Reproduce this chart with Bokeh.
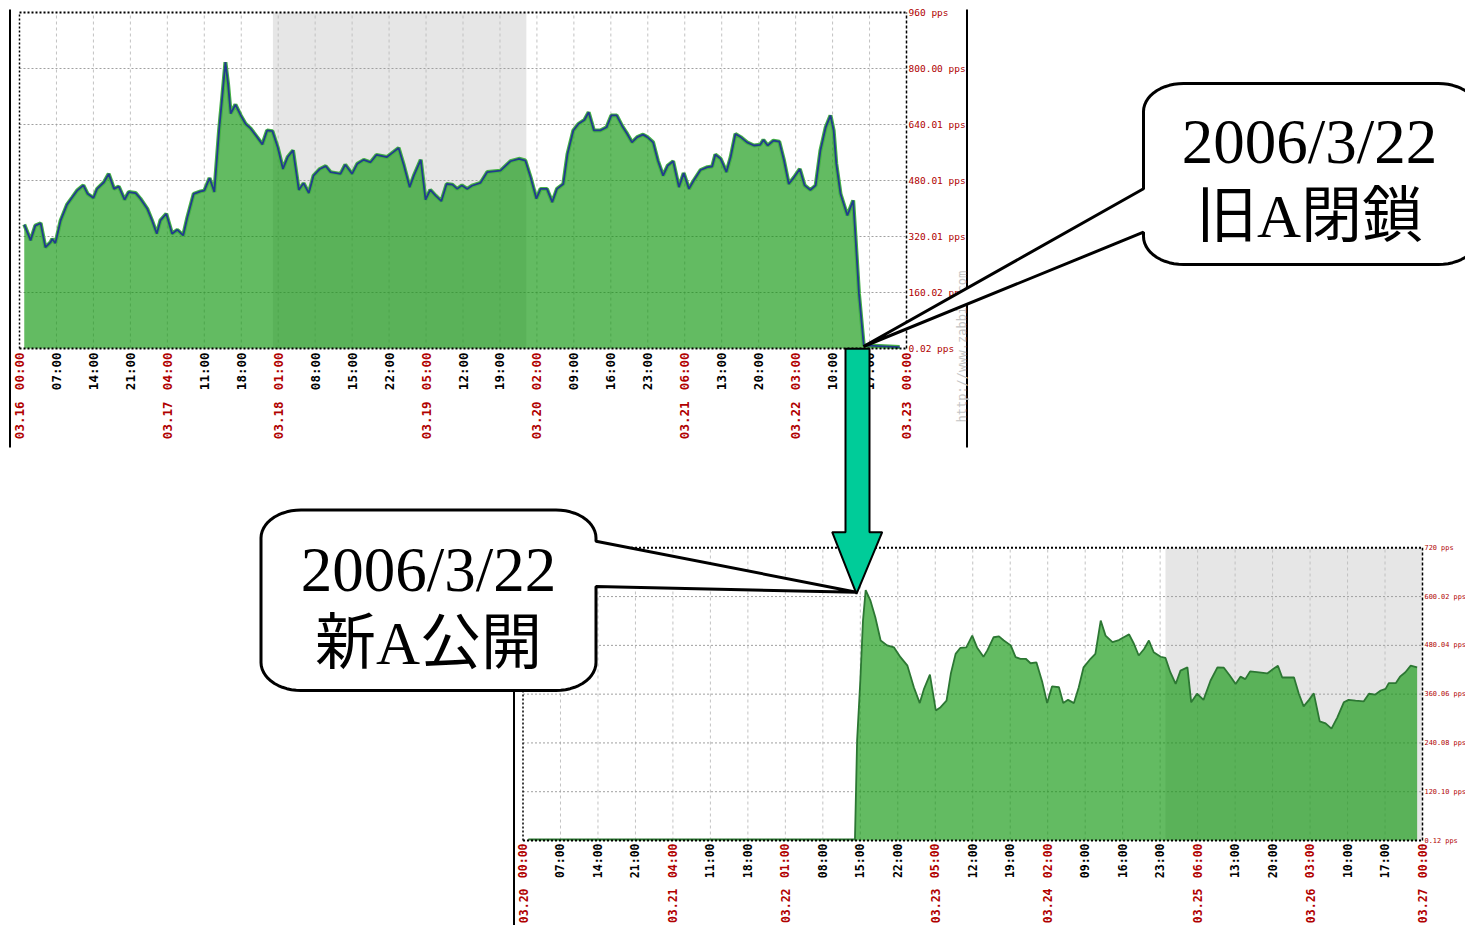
import numpy as np
from bokeh.plotting import figure
from bokeh.models import Range1d, LinearAxis, FixedTicker
from bokeh.core.properties import value
from bokeh.embed import file_html
from bokeh.resources import INLINE

# ---------------- data (hours since first tick, packets per second) ----------------
# old server A : 2006-03-16 00:00 .. 2006-03-23 00:00
old_hours = [
    0.9, 2.1, 3.0, 4.0, 4.9, 5.9, 6.2, 6.8, 7.8, 9.0,
    10.0, 10.9, 12.1, 12.9, 14.0, 14.7, 16.0, 16.9, 17.9, 18.8,
    19.9, 20.7, 22.0, 22.9, 24.2, 25.1, 26.0, 26.7, 27.8, 28.9,
    29.9, 31.0, 31.8, 33.0, 34.3, 35.0, 36.0, 36.9, 37.8, 38.4,
    39.0, 39.5, 40.0, 40.9, 41.9, 42.8, 43.8, 45.0, 46.0, 46.9,
    47.9, 48.9, 49.9, 50.8, 51.8, 52.9, 53.8, 54.8, 55.7, 56.9,
    58.0, 58.9, 60.8, 61.7, 63.0, 64.0, 65.2, 66.5, 67.6, 69.6,
    70.8, 71.8, 72.8, 73.9, 74.7, 76.0, 76.9, 77.8, 78.8, 79.9,
    80.9, 82.0, 82.9, 83.8, 84.8, 85.7, 87.3,
    88.6, 91.1, 93.0, 94.6, 95.8, 96.8, 97.9, 98.7, 99.9, 100.9,
    101.8, 103.0, 103.8, 104.9, 105.9, 107.0, 107.8, 108.8, 110.0, 111.2,
    112.1, 113.1, 114.2, 115.1, 116.0, 117.0, 118.1, 118.9, 120.0, 120.9,
    121.9, 122.8, 123.8, 124.9, 125.8, 126.8, 127.7, 129.0, 130.3, 131.2,
    131.8, 132.8, 133.9, 134.7, 135.6, 136.6, 137.8, 139.1, 140.3, 140.9,
    141.7, 142.8, 143.9, 144.8, 145.7, 146.7, 147.8, 148.7, 149.8, 150.8,
    151.7, 152.7, 153.6, 154.2, 154.7, 155.5, 156.8, 157.9, 158.3, 159.0,
    159.9, 166.7,
]
old_pps = [
    354, 309, 351, 358, 289, 304, 313, 301, 366, 411,
    432, 451, 466, 442, 430, 456, 475, 499, 456, 463,
    425, 447, 444, 428, 399, 366, 328, 366, 385, 328,
    339, 323, 375, 442, 449, 451, 487, 447, 623, 718,
    818, 756, 671, 697, 666, 642, 628, 604, 583, 623,
    621, 575, 513, 547, 566, 453, 472, 444, 494, 513,
    521, 504, 499, 525, 499, 528, 539, 532, 553, 547,
    561, 573, 523, 461, 494, 539, 425, 453, 437, 421,
    470, 468, 456, 466, 456, 465, 473,
    504, 508, 535, 542, 537, 489, 428, 456, 456, 418,
    456, 470, 556, 623, 642, 653, 675, 623, 623, 632,
    666, 666, 634, 613, 589, 604, 611, 604, 589, 537,
    494, 523, 535, 461, 501, 456, 480, 510, 518, 520,
    554, 542, 504, 547, 613, 604, 589, 580, 582, 596,
    580, 594, 591, 537, 470, 489, 513, 466, 453, 466,
    566, 632, 666, 623, 528, 442, 380, 423, 328, 156,
    9, 4,
]

# new server A : 2006-03-20 00:00 .. 2006-03-27 00:00
new_hours = [
    1.0, 62.0, 62.4, 63.0, 63.5, 64.0, 64.9, 65.8, 66.8, 68.0,
    69.3, 70.5, 71.8, 73.0, 74.1, 74.9, 76.0, 77.1, 78.0, 79.1,
    79.9, 80.8, 81.7, 82.8, 83.9, 84.8, 86.0, 86.7, 87.9, 88.9,
    89.8, 91.1, 92.0, 92.9, 93.9, 94.8, 95.9, 97.0, 97.9, 98.8,
    100.1, 100.9, 101.8, 102.9, 103.8, 104.7, 106.0, 106.9, 107.9, 108.8,
    110.1, 111.3, 112.2, 113.2, 114.1, 115.0, 116.0, 116.9, 117.8, 119.1,
    120.0, 120.9, 121.9, 122.8, 124.1, 124.8, 125.9, 127.1, 128.4, 129.7,
    130.9, 132.0, 133.1, 134.0, 134.9, 135.8, 137.1, 139.0, 140.1, 141.0,
    141.8, 144.0, 144.9, 145.8, 146.8, 147.7, 148.8, 149.9, 151.0, 152.1,
    153.3, 154.2, 155.5, 157.0, 158.0, 159.2, 160.2, 161.1, 161.7, 163.0,
    163.8, 164.8, 165.8, 167.0,
]
new_pps = [
    3, 3, 246, 393, 541, 616, 590, 549, 492, 480,
    475, 451, 430, 377, 338, 373, 408, 320, 328, 344,
    410, 459, 474, 475, 504, 475, 452, 467, 500, 502,
    492, 480, 451, 447, 447, 436, 438, 389, 338, 379,
    377, 338, 346, 338, 377, 426, 447, 459, 541, 504,
    488, 493, 500, 507, 484, 455, 471, 492, 463, 452,
    449, 414, 385, 418, 426, 340, 361, 346, 393, 426,
    425, 406, 385, 403, 397, 416, 414, 411, 422, 430,
    401, 401, 361, 330, 346, 362, 293, 288, 275, 303,
    340, 346, 344, 342, 361, 359, 369, 373, 387, 387,
    403, 414, 430, 426,
]
assert len(old_hours) == len(old_pps)
assert len(new_hours) == len(new_pps)

tick_hours = [0, 7, 14, 21, 28, 35, 42, 49, 56, 63, 70, 77, 84, 91, 98,
              105, 112, 119, 126, 133, 140, 147, 154, 161, 168]
tick_times = ["00:00", "07:00", "14:00", "21:00", "04:00", "11:00", "18:00",
              "01:00", "08:00", "15:00", "22:00", "05:00", "12:00", "19:00",
              "02:00", "09:00", "16:00", "23:00", "06:00", "13:00", "20:00",
              "03:00", "10:00", "17:00", "00:00"]
old_tick_dates = ["03.16", "", "", "", "03.17", "", "", "03.18", "", "", "", "03.19",
                  "", "", "03.20", "", "", "", "03.21", "", "", "03.22", "", "", "03.23"]
new_tick_dates = ["03.20", "", "", "", "03.21", "", "", "03.22", "", "", "", "03.23",
                  "", "", "03.24", "", "", "", "03.25", "", "", "03.26", "", "", "03.27"]

old_weekend = [48, 96]
new_weekend = [120, 168]

old_value_ticks = [0, 160, 320, 480, 640, 800, 960]
old_value_labels = ["0.02 pps", "160.02 pps", "320.01 pps", "480.01 pps",
                    "640.01 pps", "800.00 pps", "960 pps"]
new_value_ticks = [0, 120, 240, 360, 480, 600, 720]
new_value_labels = ["0.12 pps", "120.10 pps", "240.08 pps", "360.06 pps",
                    "480.04 pps", "600.02 pps", "720 pps"]

callout_old = ["2006/3/22", "旧A閉鎖"]
callout_new = ["2006/3/22", "新A公開"]
watermark = "http://www.zabbix.com"

# ---------------- layout (reference pixel frame) ----------------
W, H = 1465, 925
X_LO, X_HI = 0, W
Y_TOP, Y_BOT = 0, H
SPAN = 168

OLD_BOX = dict(x0=19.0, x1=906.0, y0=348.0, y1=12.0, vmax=960)
NEW_BOX = dict(x0=522.5, x1=1422.0, y0=840.0, y1=547.3, vmax=720)

GREEN = "#0b950a"
RED = "#b00000"
MONO_NAME = "DejaVu Sans Mono"
MONO = value(MONO_NAME)

p = figure(width=W, height=H, x_range=Range1d(X_LO, X_HI), y_range=Range1d(Y_BOT, Y_TOP),
           x_axis_type=None, y_axis_type=None, toolbar_location=None,
           output_backend="svg", min_border=0, outline_line_color=None,
           background_fill_color="white", border_fill_color="white")


def chart_ranges(name, box):
    kx = SPAN / (box["x1"] - box["x0"])
    ky = box["vmax"] / (box["y0"] - box["y1"])
    p.extra_x_ranges["t" + name] = Range1d((X_LO - box["x0"]) * kx, (X_HI - box["x0"]) * kx)
    p.extra_y_ranges["v" + name] = Range1d((box["y0"] - Y_BOT) * ky, (box["y0"] - Y_TOP) * ky)
    return "t" + name, "v" + name


def draw_chart(name, box, hours, pps, weekend, vticks, vlabels, dates,
               line_color, halo, fs, so_time, so_date, vfs):
    tx, vy = chart_ranges(name, box)
    vmax = box["vmax"]
    kw = dict(x_range_name=tx, y_range_name=vy)
    p.quad(left=weekend[0], right=weekend[1], bottom=0, top=vmax,
           fill_color="#e6e6e6", line_color=None, **kw)
    inner = tick_hours[1:-1]
    p.segment(x0=inner, y0=[0] * len(inner), x1=inner, y1=[vmax] * len(inner),
              line_color="#c2c2c2", line_dash="3 3", line_width=1, **kw)
    hv = vticks[1:-1]
    p.segment(x0=[0] * len(hv), y0=hv, x1=[SPAN] * len(hv), y1=hv,
              line_color="#a0a0a0", line_dash="2 2", line_width=1, **kw)
    p.varea(x=hours, y1=[0] * len(hours), y2=pps, fill_color=GREEN, fill_alpha=0.64, **kw)
    if halo:
        p.line(hours, pps, line_color=halo, line_width=4, **kw)
    p.line(hours, pps, line_color=line_color, line_width=1.8, **kw)
    # frame
    p.segment(x0=[0, 0], y0=[0, vmax], x1=[SPAN, SPAN], y1=[0, vmax],
              line_color="black", line_dash="2 2", line_width=2, **kw)
    p.segment(x0=[0], y0=[0], x1=[0], y1=[vmax], line_color="black",
              line_dash="2 2", line_width=1.5, **kw)
    p.segment(x0=[SPAN], y0=[0], x1=[SPAN], y1=[vmax], line_color="black",
              line_dash="3 2", line_width=1.5, **kw)

    red = [t for t, d in zip(tick_hours, dates) if d]
    blk = [t for t, d in zip(tick_hours, dates) if not d]
    times = dict(zip(tick_hours, tick_times))
    dmap = {t: d for t, d in zip(tick_hours, dates) if d}
    specs = [(blk, {t: times[t] for t in blk}, "black", so_time),
             (red, {t: times[t] for t in red}, RED, so_time),
             (red, dmap, RED, so_date)]
    for ticks, labels, color, so in specs:
        ax = LinearAxis(fixed_location=0, ticker=FixedTicker(ticks=ticks),
                        major_label_overrides=labels, major_label_orientation=np.pi / 2,
                        major_label_text_color=color, major_label_text_font=MONO_NAME,
                        major_label_text_font_style="bold",
                        major_label_text_font_size=fs, major_label_standoff=so,
                        axis_line_color=None, major_tick_line_color=None,
                        minor_tick_line_color=None, major_tick_in=0, major_tick_out=0, **kw)
        p.add_layout(ax, "below")
    yax = LinearAxis(fixed_location=SPAN, ticker=FixedTicker(ticks=vticks),
                     major_label_overrides=dict(zip(vticks, vlabels)),
                     major_label_text_color=RED, major_label_text_font=MONO_NAME,
                     major_label_text_font_size=vfs, major_label_standoff=2,
                     axis_line_color=None, major_tick_line_color=None,
                     minor_tick_line_color=None, major_tick_in=0, major_tick_out=0, **kw)
    p.add_layout(yax, "right")


draw_chart("1", OLD_BOX, old_hours, old_pps, old_weekend, old_value_ticks,
           old_value_labels, old_tick_dates, "#213c8c", "#45b145", "12.5px", 4, 53, "9.5px")
draw_chart("2", NEW_BOX, new_hours, new_pps, new_weekend, new_value_ticks,
           new_value_labels, new_tick_dates, "#2c7733", None, "11.5px", 3, 48, "6.9px")

# screenshot borders
p.segment(x0=[9.5, 966.5, 513.5], y0=[9, 9, 545], x1=[9.5, 966.5, 513.5], y1=[447, 447, 925],
          line_color="black", line_width=2)

# watermark
p.text(x=[961], y=[422], text=[watermark], angle=np.pi / 2, text_align="left",
       text_baseline="middle", text_color="#c4c4c4", text_font=MONO, text_font_size="12px")

# arrow
arrow_x = [845, 869, 869, 881.7, 856, 831.7, 845]
arrow_y = [348.3, 348.3, 531.7, 531.7, 593.3, 531.7, 531.7]
r = p.patch(arrow_x, arrow_y, fill_color="#00cc99", line_color="black", line_width=2)
r.level = "overlay"


def callout_path(x0, y0, x1, y1, rx, ry, side, b1, b2, tip):
    pts = []

    def arc(cx, cy, a0, a1):
        th = np.radians(np.linspace(a0, a1, 14))
        return list(zip(cx + rx * np.cos(th), cy + ry * np.sin(th)))
    pts += arc(x1 - rx, y0 + ry, -90, 0)
    if side == "right":
        pts += [(x1, b1), tip, (x1, b2)]
    pts += arc(x1 - rx, y1 - ry, 0, 90)
    pts += arc(x0 + rx, y1 - ry, 90, 180)
    if side == "left":
        pts += [(x0, b2), tip, (x0, b1)]
    pts += arc(x0 + rx, y0 + ry, 180, 270)
    xs, ys = zip(*pts)
    return list(xs), list(ys)


CJK = value("Liberation Serif, Noto Sans CJK JP")
SERIF = value("Liberation Serif")

for box, lines, pos in [
    ((1143, 83, 1478, 264, 40, 28, "left", 188.3, 231.7, (863, 346)), callout_old, (1309, 141.5, 216)),
    ((260.5, 509.5, 595.5, 690, 40, 28, "right", 540.7, 586, (856, 591.7)), callout_new, (428, 569, 643)),
]:
    xs, ys = callout_path(*box)
    r = p.patch(xs, ys, fill_color="white", line_color="black", line_width=3)
    r.level = "overlay"
    t1 = p.text(x=[pos[0]], y=[pos[1]], text=[lines[0]], text_align="center",
                text_baseline="middle", text_font=SERIF, text_font_size="63px",
                text_color="black")
    t2 = p.text(x=[pos[0]], y=[pos[2]], text=[lines[1]], text_align="center",
                text_baseline="middle", text_font=CJK, text_font_size="61px",
                text_color="black")
    t1.level = "overlay"
    t2.level = "overlay"

open("out.html", "w").write(file_html(p, INLINE))
